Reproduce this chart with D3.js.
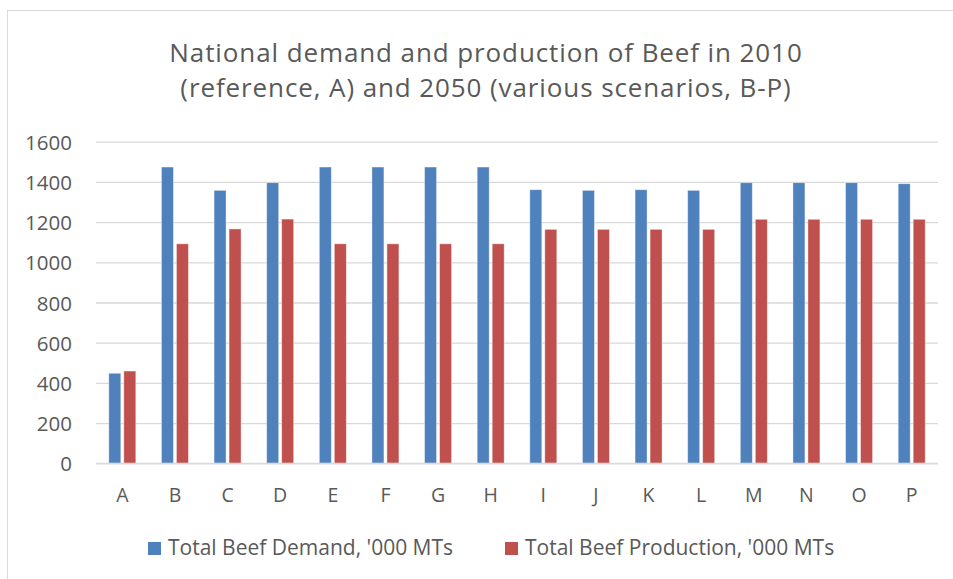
<!DOCTYPE html>
<html>
<head>
<meta charset="utf-8">
<script src="https://cdn.jsdelivr.net/npm/d3@7"></script>
<style>
  html, body { margin: 0; padding: 0; background: #fff; }
  svg { display: block; font-family: "Open Sans", Lato, sans-serif; }
</style>
</head>
<body>
<svg id="chart" width="953" height="579"></svg>
<script>
// Scenarios: A = 2010 reference, B-P = 2050 scenarios
const categories = ["A","B","C","D","E","F","G","H","I","J","K","L","M","N","O","P"];
const demand = [448, 1474, 1358, 1396, 1474, 1474, 1474, 1474, 1361, 1358, 1361, 1358, 1396, 1396, 1396, 1391];
const production = [459, 1092, 1166, 1215, 1092, 1092, 1092, 1092, 1164, 1164, 1164, 1164, 1214, 1214, 1214, 1214];
const seriesNames = ["Total Beef Demand, '000 MTs", "Total Beef Production, '000 MTs"];
const seriesColors = ["#4F81BD", "#C0504D"];
const yTicks = [0, 200, 400, 600, 800, 1000, 1200, 1400, 1600];
const titleLines = ["National demand and production of Beef in 2010", "(reference, A) and 2050 (various scenarios, B-P)"];

const FONT = "'Open Sans', Lato, sans-serif";
const TEXT = "#595959";
const svg = d3.select("#chart");
const W = 953, H = 579;
const plot = { left: 96, right: 938, top: 141.7, bottom: 463.3 };

// chart frame
svg.append("rect")
  .attr("x", 7.5).attr("y", 10.5)
  .attr("width", W + 10).attr("height", H + 10)
  .attr("fill", "#fff").attr("stroke", "#d9d9d9");

// title
svg.append("g").selectAll("text").data(titleLines).join("text")
  .attr("x", 486).attr("y", (d, i) => [62.3, 96.5][i])
  .attr("text-anchor", "middle")
  .attr("font-size", 26).attr("letter-spacing", 0.9)
  .attr("fill", TEXT).attr("font-family", FONT)
  .text(d => d);

const x = d3.scaleBand().domain(categories).range([plot.left, plot.right]).paddingInner(0).paddingOuter(0);
const y = d3.scaleLinear().domain([0, 1600]).range([plot.bottom, plot.top]);
const barW = 12, barGap = 3;
const sub = d3.scaleOrdinal().domain([0, 1]).range([-(barW + barGap / 2), barGap / 2]);

// gridlines + y axis labels
const yAxis = d3.axisLeft(y).tickValues(yTicks).tickSize(-(plot.right - plot.left)).tickPadding(24).tickFormat(d3.format("d"));
const gy = svg.append("g").attr("transform", `translate(${plot.left},0)`).call(yAxis);
gy.select(".domain").remove();
gy.selectAll(".tick line").attr("stroke", "#d9d9d9").attr("stroke-width", 1.3);
gy.selectAll(".tick text").attr("font-size", 20.5).attr("fill", TEXT).attr("font-family", FONT)
  .attr("dy", null).attr("y", 7.6);

// x axis labels
const xAxis = d3.axisBottom(x).tickSize(0).tickPadding(0);
const gx = svg.append("g").attr("transform", `translate(0,${plot.bottom})`).call(xAxis);
gx.select(".domain").remove();
gx.selectAll(".tick text").attr("font-size", 19.5).attr("fill", TEXT).attr("font-family", FONT)
  .attr("dy", null).attr("y", 38.7);

// bars
const seriesData = [demand, production];
seriesData.forEach((vals, s) => {
  svg.append("g").selectAll("rect").data(vals).join("rect")
    .attr("x", (d, i) => x(categories[i]) + x.bandwidth() / 2 + sub(s))
    .attr("y", d => y(d))
    .attr("width", barW)
    .attr("height", d => y(0) - y(d))
    .attr("fill", seriesColors[s])
    .attr("stroke", "rgba(255,255,255,0.5)")
    .attr("stroke-width", 0.8);
});

// baseline
svg.append("line")
  .attr("x1", plot.left).attr("x2", plot.right)
  .attr("y1", y(0)).attr("y2", y(0))
  .attr("stroke", "#d9d9d9").attr("stroke-width", 1.3);

// legend
const legendX = [148, 505];
const lg = svg.append("g").selectAll("g").data(seriesNames).join("g")
  .attr("transform", (d, i) => `translate(${legendX[i]},542)`);
lg.append("rect").attr("width", 13).attr("height", 13).attr("fill", (d, i) => seriesColors[i]);
lg.append("text").attr("x", 20).attr("y", 12.5).attr("font-size", 21).attr("fill", TEXT).attr("font-family", FONT).text(d => d);
</script>
</body>
</html>
